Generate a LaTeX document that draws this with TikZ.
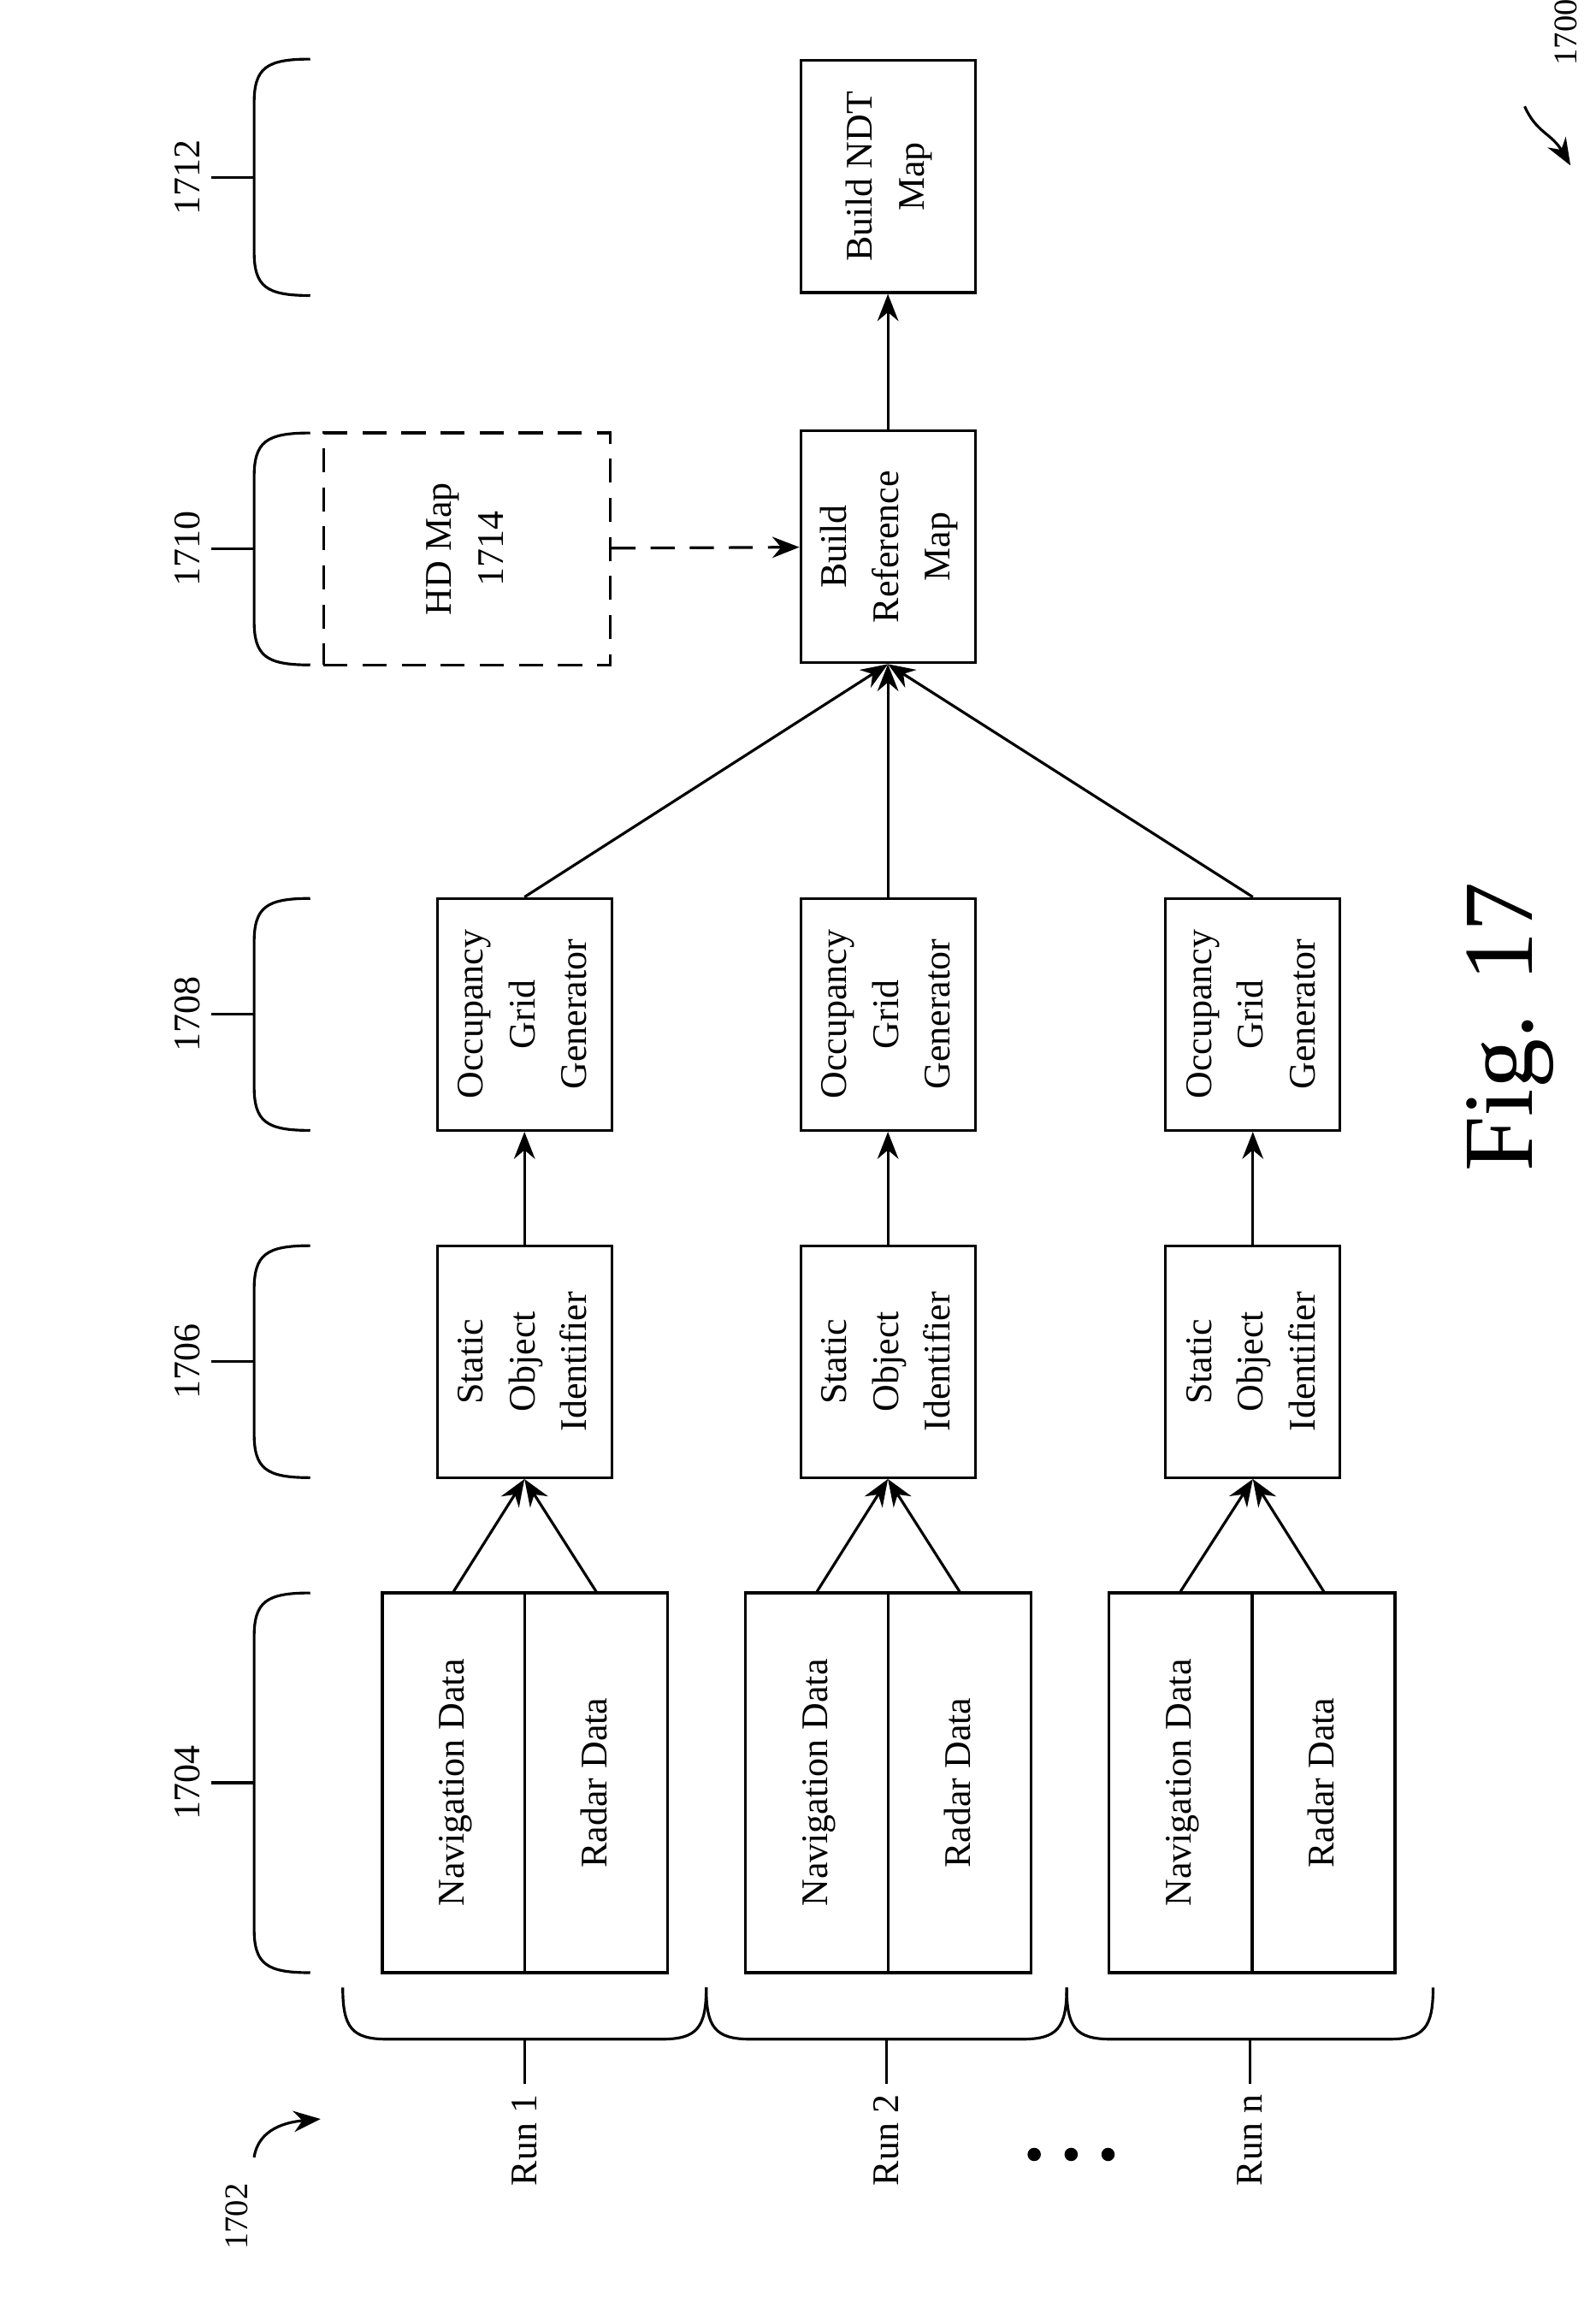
\documentclass[tikz,border=0pt]{standalone}
\usepackage{fontspec}
\setmainfont{Liberation Serif}
\usepackage{graphicx}
\usetikzlibrary{arrows.meta}
\newcommand{\rt}[1]{\rotatebox{90}{\renewcommand\arraystretch{1.15}\begin{tabular}{@{}c@{}}#1\end{tabular}}}
\begin{document}
\begin{tikzpicture}[x=0.017278cm,y=-0.017278cm,line width=0.9pt,
 box/.style={draw,minimum width=2.039cm,minimum height=2.713cm,inner sep=0pt,font=\fontsize{12.5}{15}\selectfont},
 half/.style={draw,minimum width=1.667cm,minimum height=4.44cm,inner sep=0pt,font=\fontsize{12.5}{15}\selectfont},
 arr/.style={-{Stealth[length=9pt,width=7pt]}},
 lab/.style={font=\fontsize{12.5}{15}\selectfont,rotate=90}]
\useasboundingbox (0,0) rectangle (1080,1566);
% data boxes
\foreach \c/\a/\b in {1/307/403.5,2/553/649.5,3/799/896}{
 \node[half] (nav\c) at (\a,1206.5) {\rt{Navigation Data}};
 \node[half] (rad\c) at (\b,1206.5) {\rt{Radar Data}};
}
\foreach \c/\x in {1/355,2/601,3/848}{
 \node[box] (st\c) at (\x,921.5) {\rt{Static\\Object\\Identifier}};
 \node[box] (oc\c) at (\x,686.5) {\rt{Occupancy\\Grid\\Generator}};
 \draw[arr] (nav\c.north) -- (st\c.south);
 \draw[arr] (rad\c.north) -- (st\c.south);
 \draw[arr] (st\c) -- (oc\c);
}
\node[box] (ref) at (601,370) {\rt{Build\\Reference\\Map}};
\node[box] (ndt) at (601,119.5) {\rt{Build NDT\\Map}};
\node[box,dashed,minimum width=3.352cm,dash pattern=on 8pt off 5pt] (hd) at (316,371.5) {\rt{HD Map\\1714}};
\foreach \c in {1,2,3}{\draw[arr] (oc\c.north) -- (ref.south);}
\draw[arr] (ref) -- (ndt);
\draw[arr,dashed,dash pattern=on 8pt off 5pt] (hd) -- (ref);
% left braces
\foreach \ya/\yb/\t in {40/200/1712,293/450/1710,608/765/1708,843/1000/1706,1078/1335/1704}{
 \pgfmathsetmacro\ym{(\ya+\yb)/2}
 \draw (210,\ya) .. controls (180,\ya) and (172,\ya+6) .. (172,\ya+30) -- (172,\yb-30) .. controls (172,\yb-6) and (180,\yb) .. (210,\yb);
 \coordinate (bt\t) at (172,\ym);
 \coordinate (bl\t) at (143,\ym);
 \draw (bt\t) -- (bl\t);
 \node[lab,anchor=south] (l\t) at (bl\t) {\t};
}
% bottom braces
\foreach \xa/\xb/\t in {232/478/Run 1,478/722/Run 2,722/970/Run n}{
 \pgfmathsetmacro\xm{(\xa+\xb)/2}
 \draw (\xa,1345) .. controls (\xa,1372) and (\xa+6,1380) .. (\xa+30,1380) -- (\xb-30,1380) .. controls (\xb-6,1380) and (\xb,1372) .. (\xb,1345);
 \coordinate (t\xa) at (\xm,1380);
 \coordinate (s\xa) at (\xm,1410);
 \draw (t\xa) -- (s\xa);
 \node[lab,anchor=east] (r\xa) at (s\xa) {\t};
}
\foreach \x in {700,725,750}{\fill (\x,1458) circle (4.5);}
\node[font=\fontsize{33}{36}\selectfont,rotate=90] (fig) at (1022,695) {Fig. 17};
\node[lab,font=\fontsize{11}{13}\selectfont] (n1700) at (1060,22) {1700};
\coordinate (a1) at (1032,72);
\coordinate (a2) at (1063,112);
\draw[arr] (a1) .. controls (1040,90) and (1050,90) .. (a2);
\node[lab,font=\fontsize{11}{13}\selectfont] (n1702) at (160,1500) {1702};
\coordinate (b1) at (172,1460);
\coordinate (b2) at (217,1434);
\draw[arr] (b1) .. controls (175,1440) and (195,1436) .. (b2);
\end{tikzpicture}
\end{document}
